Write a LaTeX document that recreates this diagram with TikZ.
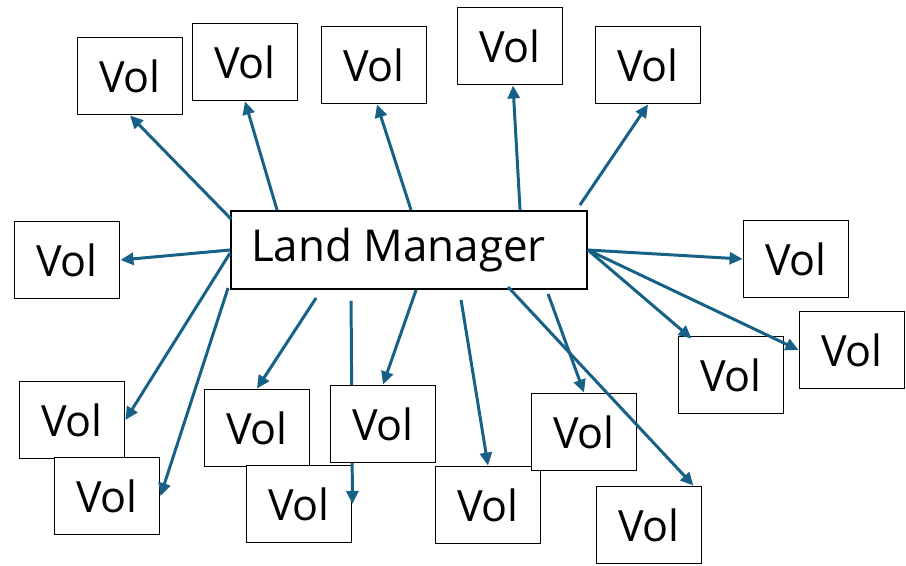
\documentclass[tikz,border=0pt]{standalone}
\usepackage{fontspec}
\setmainfont{Open Sans}
\definecolor{volblue}{RGB}{22,97,133}
\usetikzlibrary{arrows.meta,calc}

\begin{document}
\begin{tikzpicture}[x=0.02cm, y=-0.02cm,
  volbox/.style={rectangle, draw=black, line width=1.1pt, fill=white,
                 minimum width=2.1cm, minimum height=1.54cm,
                 font=\fontsize{24.5}{28}\selectfont, inner sep=0pt},
  arr/.style={-{Triangle[length=0.26cm, width=0.24cm]}, line width=1.7pt, draw=volblue}
]
\useasboundingbox (0,0) rectangle (906,565);

% Central box
\node[volbox, minimum width=7.12cm, minimum height=1.56cm,
      font=\fontsize{25}{28}\selectfont] (lm) at (409,250) {Land Manager\hspace*{0.42cm}};

% Top row
\node[volbox] (v1) at (130,76) {Vol};
\node[volbox] (v2) at (245,62) {Vol};
\node[volbox] (v3) at (374,65) {Vol};
\node[volbox] (v4) at (510,46) {Vol};
\node[volbox] (v5) at (648,65) {Vol};

% Left side
\node[volbox] (vl)   at (67,260)  {Vol};
\node[volbox] (vbl1) at (72,420)  {Vol};
\node[volbox] (vbl2) at (107,496) {Vol};

% Right side
\node[volbox] (vr1) at (796,259) {Vol};
\node[volbox] (vr2) at (852,350) {Vol};
\node[volbox] (vr3) at (731,375) {Vol};

% Bottom row
\node[volbox] (va) at (257,428) {Vol};
\node[volbox] (vc) at (299,504) {Vol};
\draw[arr] ($(lm.south west)+(121,11)$) -- (vc.east);
\node[volbox] (vb) at (383,424) {Vol};
\node[volbox] (vd) at (488,505) {Vol};
\node[volbox] (ve) at (584,432) {Vol};
\node[volbox] (vf) at (649,525) {Vol};

% Arrows up
\draw[arr] ($(lm.north west)+(1,9)$)   -- (v1.south);
\draw[arr] ($(lm.north west)+(47,0)$)  -- (v2.south);
\draw[arr] ($(lm.north west)+(181,0)$) -- ($(v3.south)+(3,0)$);
\draw[arr] ($(lm.north west)+(290,0)$) -- ($(v4.south)+(3,0)$);
\draw[arr] ($(lm.north east)+(-8,-5)$) -- (v5.south);

% Arrows left
\draw[arr] (lm.west) -- (vl.east);
\draw[arr] ($(lm.west)+(0,3)$) -- (vbl1.east);
\draw[arr] ($(lm.south west)+(-2,-2)$) -- (vbl2.east);

% Arrows right
\draw[arr] (lm.east) -- (vr1.west);
\draw[arr] (lm.east) -- ($(vr3.north west)+(14,3)$);
\draw[arr] (lm.east) -- (vr2.west);

% Arrows down
\draw[arr] ($(lm.south west)+(86,8)$)   -- (va.north);
\draw[arr] ($(lm.south west)+(186,0)$)  -- (vb.north);
\draw[arr] ($(lm.south west)+(231,10)$) -- (vd.north);
\draw[arr] ($(lm.south west)+(318,4)$)  -- (ve.north);
\draw[arr] ($(lm.south west)+(278,-3)$) -- ($(vf.north east)+(-9,0)$);
\end{tikzpicture}
\end{document}
